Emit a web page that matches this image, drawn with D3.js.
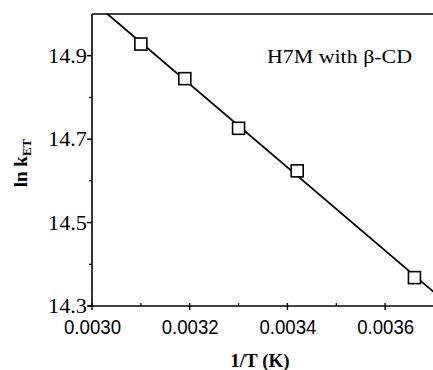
<!DOCTYPE html>
<html>
  <head>
    <script src="https://d3js.org/d3.v7.min.js"></script>
    <style>
      body { margin: 0; background: #fff; }
    </style>
  </head>
  <body>
    <script>
    // measured points: 1/T vs ln kET
    var invT = [0.00310, 0.00319, 0.00330, 0.00342, 0.00366];
    var lnK = [14.928, 14.845, 14.726, 14.624, 14.368];
    var xTicks = [0.0030, 0.0032, 0.0034, 0.0036];
    var xMinor = [0.0031, 0.0033, 0.0035, 0.0037];
    var yTicks = [14.3, 14.5, 14.7, 14.9];
    var yMinor = [14.4, 14.6, 14.8];

    var width = 433, height = 370;
    var plotLeft = 92, plotTop = 14, plotBottom = 306;

    var x = d3.scaleLinear().domain([0.0030, 0.0037]).range([plotLeft, 434]);
    var y = d3.scaleLinear().domain([14.3, 15.0]).range([plotBottom, plotTop]);

    var svg = d3.select('body').append('svg')
      .attr('width', width)
      .attr('height', height);

    svg.append('clipPath').attr('id', 'plot')
      .append('rect')
      .attr('x', plotLeft).attr('y', plotTop)
      .attr('width', width - plotLeft).attr('height', plotBottom - plotTop);

    // least squares fit line
    var mx = d3.mean(invT), my = d3.mean(lnK);
    var sxy = d3.sum(invT, function(d, i){ return (d - mx) * (lnK[i] - my); });
    var sxx = d3.sum(invT, function(d){ return (d - mx) * (d - mx); });
    var slope = sxy / sxx, icpt = my - slope * mx;

    svg.append('line')
      .attr('clip-path', 'url(#plot)')
      .attr('x1', x(0.0030)).attr('y1', y(icpt + slope * 0.0030))
      .attr('x2', x(0.0037)).attr('y2', y(icpt + slope * 0.0037))
      .style('stroke', '#000')
      .style('stroke-width', 1.8);

    // frame: left, top, bottom
    var frame = svg.append('g').style('stroke', '#000').style('stroke-width', 1.6);
    frame.append('line').attr('x1', plotLeft).attr('x2', plotLeft).attr('y1', plotTop).attr('y2', plotBottom);
    frame.append('line').attr('x1', plotLeft).attr('x2', width).attr('y1', plotTop).attr('y2', plotTop);
    frame.append('line').attr('x1', plotLeft - 4).attr('x2', width).attr('y1', plotBottom).attr('y2', plotBottom);

    // y ticks
    svg.selectAll('.ytick').data(yTicks).enter().append('line')
      .attr('x1', plotLeft - 5).attr('x2', plotLeft)
      .attr('y1', function(d){ return y(d); }).attr('y2', function(d){ return y(d); })
      .style('stroke', '#000').style('stroke-width', 1.4);
    svg.selectAll('.yminor').data(yMinor).enter().append('line')
      .attr('x1', plotLeft - 3).attr('x2', plotLeft)
      .attr('y1', function(d){ return y(d); }).attr('y2', function(d){ return y(d); })
      .style('stroke', '#000').style('stroke-width', 1.2);
    svg.selectAll('.ylab').data(yTicks).enter().append('text')
      .attr('x', plotLeft - 5).attr('y', function(d){ return y(d) + 7; })
      .attr('text-anchor', 'end')
      .attr('textLength', 39).attr('lengthAdjust', 'spacingAndGlyphs')
      .style('font-family', 'Liberation Serif')
      .style('font-size', '20px')
      .text(function(d){ return d3.format('.1f')(d); });

    // x ticks
    svg.selectAll('.xtick').data(xTicks).enter().append('line')
      .attr('x1', function(d){ return x(d); }).attr('x2', function(d){ return x(d); })
      .attr('y1', plotBottom - 3).attr('y2', plotBottom + 4)
      .style('stroke', '#000').style('stroke-width', 1.4);
    svg.selectAll('.xminor').data(xMinor).enter().append('line')
      .attr('x1', function(d){ return x(d); }).attr('x2', function(d){ return x(d); })
      .attr('y1', plotBottom - 3).attr('y2', plotBottom)
      .style('stroke', '#000').style('stroke-width', 1.2);
    svg.selectAll('.xlab').data(xTicks).enter().append('text')
      .attr('x', function(d){ return x(d) - 28; })
      .attr('y', plotBottom + 28)
      .attr('textLength', 57).attr('lengthAdjust', 'spacingAndGlyphs')
      .style('font-family', 'Liberation Sans')
      .style('font-size', '21px')
      .text(function(d){ return d3.format('.4f')(d); });

    // points
    svg.selectAll('.pt').data(invT).enter().append('rect')
      .attr('x', function(d){ return x(d) - 6; })
      .attr('y', function(d, i){ return y(lnK[i]) - 6; })
      .attr('width', 12).attr('height', 12)
      .style('fill', '#fff')
      .style('stroke', '#000')
      .style('stroke-width', 1.6);

    // labels
    svg.append('text')
      .attr('x', 412).attr('y', 63)
      .attr('text-anchor', 'end')
      .attr('textLength', 145).attr('lengthAdjust', 'spacingAndGlyphs')
      .style('font-family', 'Liberation Serif')
      .style('font-size', '18px')
      .text('H7M with β-CD');

    svg.append('text')
      .attr('x', 260).attr('y', 367)
      .attr('text-anchor', 'middle')
      .style('font-family', 'Liberation Serif')
      .style('font-weight', 'bold')
      .style('font-size', '19px')
      .text('1/T (K)');

    var yl = svg.append('text')
      .attr('transform', 'translate(27,163) rotate(-90)')
      .attr('text-anchor', 'middle')
      .style('font-family', 'Liberation Serif')
      .style('font-weight', 'bold')
      .style('font-size', '19px');
    yl.append('tspan').text('ln k');
    yl.append('tspan').attr('dy', 4).style('font-size', '13px').text('ET');
    </script>
  </body>
</html>
